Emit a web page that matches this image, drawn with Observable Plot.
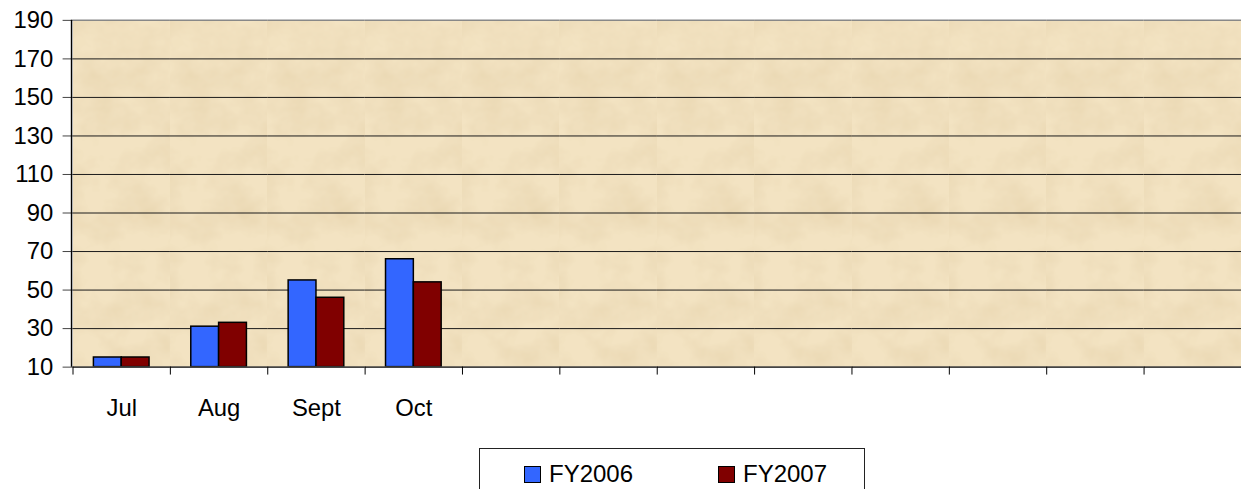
<!DOCTYPE html>
<html>
<head>
<meta charset="utf-8">
<script src="https://cdn.jsdelivr.net/npm/d3@7"></script>
<script src="https://cdn.jsdelivr.net/npm/@observablehq/plot@0.6"></script>
<style>
  html, body { margin: 0; padding: 0; background: #fff; overflow: hidden; width: 1241px; height: 489px; }
  #chart { position: absolute; left: 0; top: 0; }
  #legend {
    position: absolute; left: 479px; top: 448px; width: 386px; height: 60px;
    border: 1px solid #222; box-sizing: border-box; background: #fff;
    font-family: "Liberation Sans", Arial, sans-serif; font-size: 24px; color: #000;
  }
  .item { position: absolute; top: 11px; display: flex; align-items: center; }
  .sw { width: 15px; height: 15px; border: 1px solid #000; margin-right: 8px; }
</style>
</head>
<body>
<div id="chart"></div>
<div id="legend"></div>
<script>
// ---- data ----
const months = ["Jul", "Aug", "Sept", "Oct", "Nov", "Dec", "Jan", "Feb", "Mar", "Apr", "May", "Jun"];
const monthLabels = ["Jul", "Aug", "Sept", "Oct", "", "", "", "", "", "", "", ""];
const seriesNames = ["FY2006", "FY2007"];
const seriesColors = ["#3366FF", "#800000"];
const fy2006 = [15, 31, 55, 66];
const fy2007 = [15, 33, 46, 54];
const yTicks = [10, 30, 50, 70, 90, 110, 130, 150, 170, 190];
const gridTicks = [30, 50, 70, 90, 110, 130, 150, 170];

const rows = [];
fy2006.forEach((v, i) => rows.push({month: months[i], series: seriesNames[0], value: v}));
fy2007.forEach((v, i) => rows.push({month: months[i], series: seriesNames[1], value: v}));

const width = 1249, marginLeft = 72, marginRight = 0;
const step = (width - marginLeft - marginRight) / months.length;
const font = "Liberation Sans, Arial, sans-serif";

const chart = Plot.plot({
  width, height: 440,
  marginLeft, marginRight, marginTop: 20, marginBottom: 71,
  style: {fontFamily: font, background: "transparent", overflow: "visible"},
  fx: {domain: months, padding: 0, label: null},
  x: {domain: seriesNames, paddingInner: 0, paddingOuter: 0.75, axis: null},
  y: {domain: [10, 190], label: null},
  color: {domain: seriesNames, range: seriesColors},
  marks: [
    Plot.rect(months, {fx: d => d, fill: "#F3E3C2", shapeRendering: "crispEdges"}),
    Plot.ruleY(months.flatMap(m => gridTicks.map(t => ({m, t}))), {fx: "m", y: "t", stroke: "#1a1a1a", strokeWidth: 1}),
    Plot.ruleY(months, {fx: d => d, y: () => 190, stroke: "#888", strokeWidth: 1.5}),
    Plot.barY(rows, {fx: "month", x: "series", y1: 10, y2: "value", fill: "series", stroke: "#000", strokeWidth: 1.5}),
    Plot.ruleY(months, {fx: d => d, y: () => 10, stroke: "#444", strokeWidth: 2}),
    Plot.axisY({ticks: yTicks, tickSize: 10, tickPadding: 10, fontSize: 24, label: null, stroke: "#444", fill: "#000"}),
    Plot.axisFx({anchor: "bottom", tickSize: 8, dx: -step / 2, tickFormat: () => "", label: null, stroke: "#000"}),
    Plot.axisFx({anchor: "bottom", tickSize: 0, tickPadding: 32, tickFormat: d => monthLabels[months.indexOf(d)], fontSize: 24, label: null, fill: "#000"})
  ]
});
document.getElementById("chart").appendChild(chart);
const svg = d3.select(chart);

// parchment texture filter
const defs = svg.insert("defs", ":first-child");
const f = defs.append("filter").attr("id", "paper").attr("filterUnits", "userSpaceOnUse")
  .attr("x", 0).attr("y", 0).attr("width", 1300).attr("height", 440);
f.append("feTurbulence").attr("type", "fractalNoise").attr("baseFrequency", "0.025 0.03")
  .attr("numOctaves", 4).attr("seed", 7).attr("result", "noise");
f.append("feColorMatrix").attr("in", "noise").attr("type", "matrix")
  .attr("values", "0 0 0 0 0.78  0 0 0 0 0.64  0 0 0 0 0.40  0 0 0 1.2 -0.42").attr("result", "tint");
f.append("feComposite").attr("in", "tint").attr("in2", "SourceGraphic").attr("operator", "atop");
svg.selectAll("g[aria-label='rect'] rect").attr("filter", "url(#paper)");

// left axis line
svg.append("line").attr("x1", marginLeft).attr("x2", marginLeft).attr("y1", 20).attr("y2", 369)
  .attr("stroke", "#000").attr("stroke-width", 1.5);

// ---- legend ----
const legend = document.getElementById("legend");
const lefts = [44, 238];
seriesNames.forEach((s, i) => {
  const it = document.createElement("div");
  it.className = "item";
  it.style.left = lefts[i] + "px";
  it.innerHTML = `<div class="sw" style="background:${seriesColors[i]}"></div><span>${s}</span>`;
  legend.appendChild(it);
});
</script>
</body>
</html>
